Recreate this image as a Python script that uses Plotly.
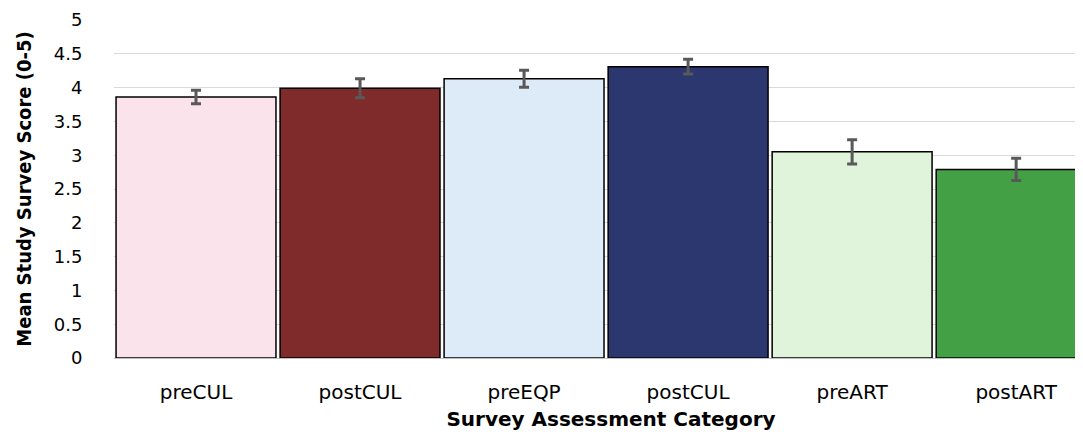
import plotly.graph_objects as go

categories = ["preCUL", "postCUL", "preEQP", "postCUL", "preART", "postART"]
means = [3.86, 3.99, 4.13, 4.31, 3.05, 2.79]
errors = [0.10, 0.14, 0.125, 0.11, 0.18, 0.165]
colors = ["#FAE3EA", "#7F2A2B", "#DDEBF8", "#2B376E", "#E0F3DB", "#44A045"]
y_ticks = [0, 0.5, 1, 1.5, 2, 2.5, 3, 3.5, 4, 4.5, 5]

x_pos = list(range(len(categories)))

fig = go.Figure(go.Bar(
    x=x_pos, y=means,
    marker=dict(color=colors, line=dict(color="#000000", width=1.5)),
    error_y=dict(type="data", array=errors, visible=True, color="#595959", thickness=3, width=5),
    width=0.975,
))

fig.update_layout(
    width=1100, height=424,
    margin=dict(l=106, r=0, t=12, b=74),
    plot_bgcolor="white", paper_bgcolor="white",
    showlegend=False,
    xaxis=dict(
        tickmode="array", tickvals=x_pos, ticktext=categories,
        range=[-0.5, 5.56],
        tickfont=dict(family="DejaVu Sans, Verdana, sans-serif", size=20, color="#000000"),
        ticks="outside", ticklen=16, tickcolor="rgba(255,255,255,0)",
        showgrid=False, zeroline=False, showline=False,
        automargin=False,
        title=dict(text="<b>Survey Assessment Category</b>",
                   font=dict(family="DejaVu Sans, Verdana, sans-serif", size=20, color="#000000"),
                   standoff=8),
    ),
    yaxis=dict(
        range=[0, 5], tickvals=y_ticks, ticktext=[f"{t:g}" for t in y_ticks],
        tickfont=dict(family="DejaVu Sans, Verdana, sans-serif", size=18, color="#000000"),
        showgrid=True, gridcolor="#D9D9D9", gridwidth=1,
        zeroline=True, zerolinecolor="#BFBFBF", zerolinewidth=1,
        ticks="outside", ticklen=27, tickcolor="rgba(255,255,255,0)",
        automargin=False,
        title=dict(text="<b>Mean Study Survey Score (0-5)</b>",
                   font=dict(family="DejaVu Sans Condensed, sans-serif", size=20, color="#000000"),
                   standoff=16),
    ),
)

fig.write_html("out.html")
